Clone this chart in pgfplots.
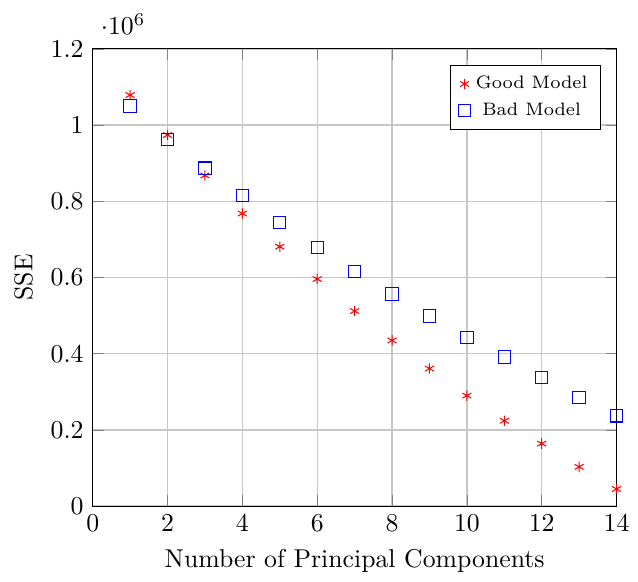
\documentclass[border=0pt]{standalone}
\usepackage{pgfplots}
\pgfplotsset{compat=1.18}
\begin{document}
\begin{tikzpicture}
\begin{axis}[
    scale only axis,
    width=7.15cm, height=6.24cm,
    xlabel={Number of Principal Components},
    ylabel={SSE},
    xmin=0, xmax=14,
    ymin=0, ymax=1200000,
    grid=major,
    grid style={black!22, line width=0.5pt},
    legend style={font=\scriptsize, at={(0.97,0.965)}, anchor=north east},
]
\addplot[only marks, color=red, mark=asterisk] coordinates {
    (1,1079000)(2,974000)(3,868000)(4,768000)(5,681000)(6,596000)(7,512000)
    (8,435000)(9,361000)(10,290000)(11,224000)(12,164000)(13,103000)(14,45000)
};
\addplot[only marks, color=blue, mark=square, mark size=2.4pt] coordinates {
    (1,1050000)(2,963000)(3,887000)(4,815000)(5,744000)(6,678000)(7,615000)
    (8,557000)(9,499000)(10,443000)(11,391000)(12,338000)(13,285000)(14,237000)
};
\legend{Good Model, Bad Model}
\end{axis}
\path ([yshift=19pt]current axis.north) circle (0pt);
\path ([xshift=-36pt]current axis.west) circle (0pt);
\end{tikzpicture}
\end{document}
